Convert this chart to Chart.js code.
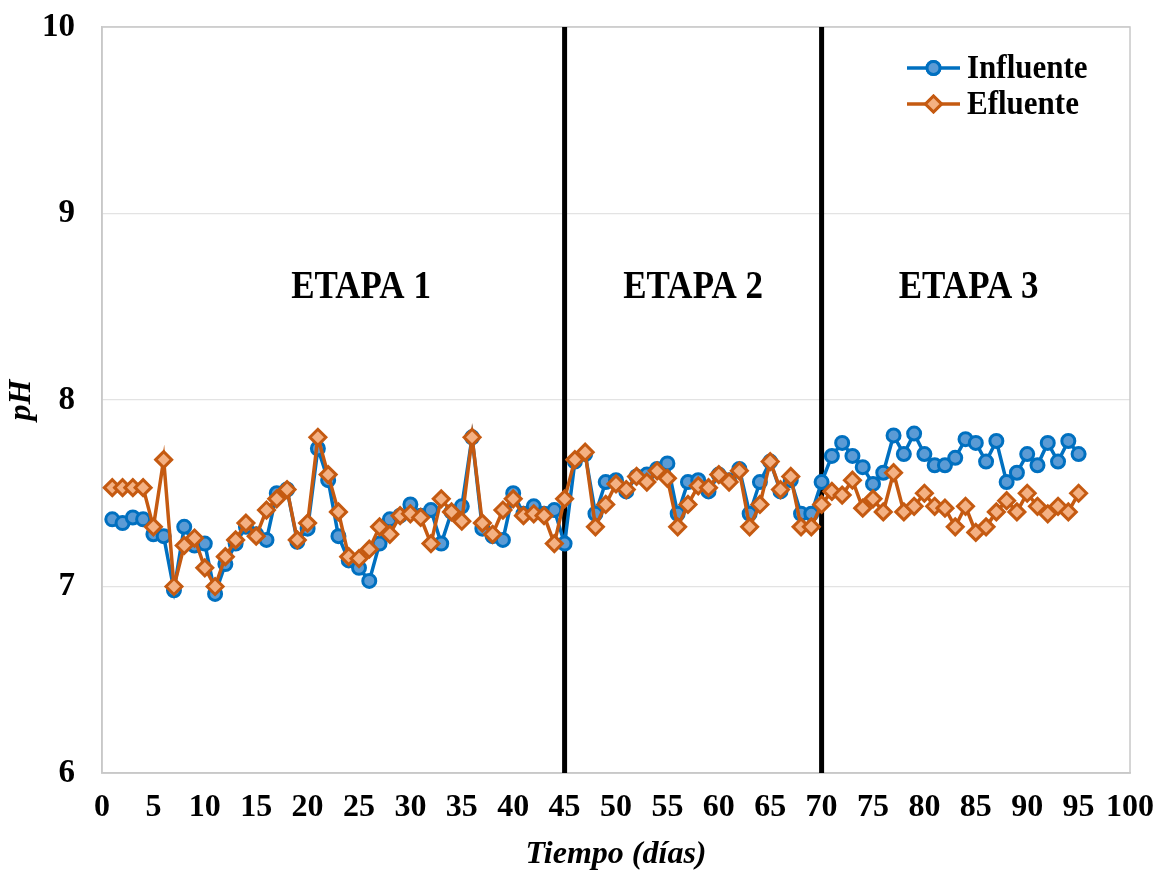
<!DOCTYPE html>
<html>
<head>
<meta charset="utf-8">
<script src="https://cdn.jsdelivr.net/npm/chart.js@4/dist/chart.umd.min.js"></script>
<style>
  html, body { margin: 0; padding: 0; background: #ffffff; }
  #wrap { width: 1156px; height: 871px; }
</style>
</head>
<body>
<div id="wrap"><canvas id="c" width="1156" height="871"></canvas></div>
<script>
const days = [1,2,3,4,5,6,7,8,9,10,11,12,13,14,15,16,17,18,19,20,21,22,23,24,25,26,27,28,29,30,31,32,33,34,35,36,37,38,39,40,41,42,43,44,45,46,47,48,49,50,51,52,53,54,55,56,57,58,59,60,61,62,63,64,65,66,67,68,69,70,71,72,73,74,75,76,77,78,79,80,81,82,83,84,85,86,87,88,89,90,91,92,93,94,95];
const influente = [7.36,7.34,7.37,7.36,7.28,7.27,6.98,7.32,7.22,7.23,6.96,7.12,7.23,7.32,7.28,7.25,7.50,7.52,7.24,7.31,7.74,7.57,7.27,7.14,7.10,7.03,7.23,7.36,7.38,7.44,7.38,7.41,7.23,7.40,7.43,7.80,7.31,7.27,7.25,7.50,7.39,7.43,7.39,7.41,7.23,7.67,7.71,7.39,7.56,7.57,7.51,7.59,7.60,7.63,7.66,7.39,7.56,7.57,7.51,7.60,7.57,7.63,7.39,7.56,7.67,7.51,7.57,7.39,7.39,7.56,7.70,7.77,7.70,7.64,7.55,7.61,7.81,7.71,7.82,7.71,7.65,7.65,7.69,7.79,7.77,7.67,7.78,7.56,7.61,7.71,7.65,7.77,7.67,7.78,7.71];
const efluente = [7.53,7.53,7.53,7.53,7.32,7.68,7.00,7.22,7.26,7.10,7.00,7.16,7.25,7.34,7.27,7.41,7.47,7.52,7.25,7.34,7.80,7.60,7.40,7.16,7.15,7.20,7.32,7.28,7.38,7.39,7.37,7.23,7.47,7.40,7.35,7.80,7.34,7.28,7.41,7.47,7.38,7.39,7.38,7.23,7.47,7.68,7.72,7.32,7.44,7.55,7.52,7.59,7.56,7.62,7.58,7.32,7.44,7.54,7.53,7.60,7.56,7.62,7.32,7.44,7.67,7.52,7.59,7.32,7.32,7.44,7.51,7.49,7.57,7.42,7.47,7.40,7.61,7.40,7.43,7.50,7.43,7.42,7.32,7.43,7.29,7.32,7.40,7.46,7.40,7.50,7.43,7.39,7.43,7.40,7.50];
const stageBoundaries = [45, 70];
const stageNames = ['ETAPA 1', 'ETAPA 2', 'ETAPA 3'];
const seriesNames = ['Influente', 'Efluente'];
const xTitle = 'Tiempo (días)';
const yTitle = 'pH';

const BLUE = '#0070C0', BLUE_FILL = '#5B9BD5';
const ORANGE = '#C55A11', ORANGE_FILL = '#F4B183';
const FONT = '"Liberation Serif", "Times New Roman", serif';

const toPoints = (ys) => days.map((d, i) => ({ x: d, y: ys[i] }));

function stretchedText(ctx, text, px, py, sy) {
  ctx.save();
  ctx.translate(px, py);
  ctx.scale(1, sy);
  ctx.fillText(text, 0, 0);
  ctx.restore();
}

const overlay = {
  id: 'overlay',
  beforeDatasetsDraw(chart) {
    const { ctx, chartArea: a, scales: { x } } = chart;
    ctx.save();
    ctx.strokeStyle = '#C8C8C8';
    ctx.lineWidth = 1.5;
    ctx.strokeRect(a.left, a.top, a.right - a.left, a.bottom - a.top);
    ctx.strokeStyle = '#000000';
    ctx.lineWidth = 5;
    stageBoundaries.forEach(b => {
      const px = x.getPixelForValue(b);
      ctx.beginPath();
      ctx.moveTo(px, a.top);
      ctx.lineTo(px, a.bottom);
      ctx.stroke();
    });
    ctx.restore();
  },
  afterDatasetsDraw(chart) {
    const { ctx, chartArea: a, scales: { x, y } } = chart;
    ctx.save();
    const stageX = [25.2, 57.5, 84.3];
    ctx.fillStyle = '#000';
    ctx.font = 'bold 35px ' + FONT;
    ctx.textAlign = 'center';
    ctx.textBaseline = 'middle';
    stageNames.forEach((n, i) => {
      stretchedText(ctx, n, x.getPixelForValue(stageX[i]), y.getPixelForValue(8.60), 1.12);
    });
    const items = [
      { name: seriesNames[0], color: BLUE, fill: BLUE_FILL, style: 'circle', r: 6.5 },
      { name: seriesNames[1], color: ORANGE, fill: ORANGE_FILL, style: 'rectRot', r: 8 }
    ];
    const lx0 = a.right - 223, lx1 = a.right - 170;
    items.forEach((it, i) => {
      const ly = a.top + 41 + i * 36;
      ctx.strokeStyle = it.color;
      ctx.lineWidth = 3.5;
      ctx.beginPath();
      ctx.moveTo(lx0, ly);
      ctx.lineTo(lx1, ly);
      ctx.stroke();
      ctx.fillStyle = it.fill;
      ctx.lineWidth = 3;
      Chart.helpers.drawPoint(ctx, { pointStyle: it.style, radius: it.r, borderWidth: 3, rotation: 0 }, (lx0 + lx1) / 2, ly);
      ctx.fill();
      ctx.stroke();
      ctx.fillStyle = '#000';
      ctx.font = 'bold 31px ' + FONT;
      ctx.textAlign = 'left';
      ctx.textBaseline = 'middle';
      stretchedText(ctx, it.name, lx1 + 7, ly + 1, 1.1);
    });
    ctx.restore();
  }
};

new Chart(document.getElementById('c'), {
  type: 'line',
  data: {
    datasets: [
      {
        label: seriesNames[0],
        data: toPoints(influente),
        borderColor: BLUE,
        backgroundColor: BLUE_FILL,
        pointBackgroundColor: BLUE_FILL,
        pointBorderColor: BLUE,
        borderWidth: 3.5,
        pointStyle: 'circle',
        pointRadius: 6.5,
        pointBorderWidth: 3,
        tension: 0,
        order: 2
      },
      {
        label: seriesNames[1],
        data: toPoints(efluente),
        borderColor: ORANGE,
        backgroundColor: ORANGE_FILL,
        pointBackgroundColor: ORANGE_FILL,
        pointBorderColor: ORANGE,
        borderWidth: 3.5,
        pointStyle: 'rectRot',
        pointRadius: 8,
        pointBorderWidth: 3,
        tension: 0,
        order: 1
      }
    ]
  },
  options: {
    responsive: false,
    animation: false,
    layout: { padding: { left: 0, top: 27, right: 26, bottom: 0 } },
    plugins: { legend: { display: false }, tooltip: { enabled: false } },
    scales: {
      x: {
        type: 'linear',
        min: 0, max: 100,
        ticks: { stepSize: 5, color: '#000', font: { family: FONT, size: 32, weight: 'bold' }, padding: 16, maxRotation: 0, autoSkip: false },
        grid: { display: false, drawTicks: false },
        border: { display: true, color: '#C8C8C8', width: 1.5 },
        title: { display: true, text: xTitle, color: '#000', font: { family: FONT, size: 32, weight: 'bold', style: 'italic', lineHeight: 1.0 }, padding: { top: 0, bottom: 0 } },
        afterFit(s) { s.height = 98; s.paddingLeft = 0; s.paddingRight = 0; }
      },
      y: {
        min: 6, max: 10,
        ticks: { stepSize: 1, color: '#000', font: { family: FONT, size: 33, weight: 'bold' }, padding: 27 },
        grid: { color: '#E3E3E3', lineWidth: 1.2, drawTicks: false },
        border: { display: true, color: '#C8C8C8', width: 1.5 },
        title: { display: true, text: yTitle, color: '#000', font: { family: FONT, size: 32, weight: 'bold', style: 'italic' }, padding: { top: 3, bottom: 0 } },
        afterFit(s) { s.width = 102; s.paddingTop = 0; s.paddingBottom = 0; }
      }
    }
  },
  plugins: [overlay]
});
</script>
</body>
</html>
